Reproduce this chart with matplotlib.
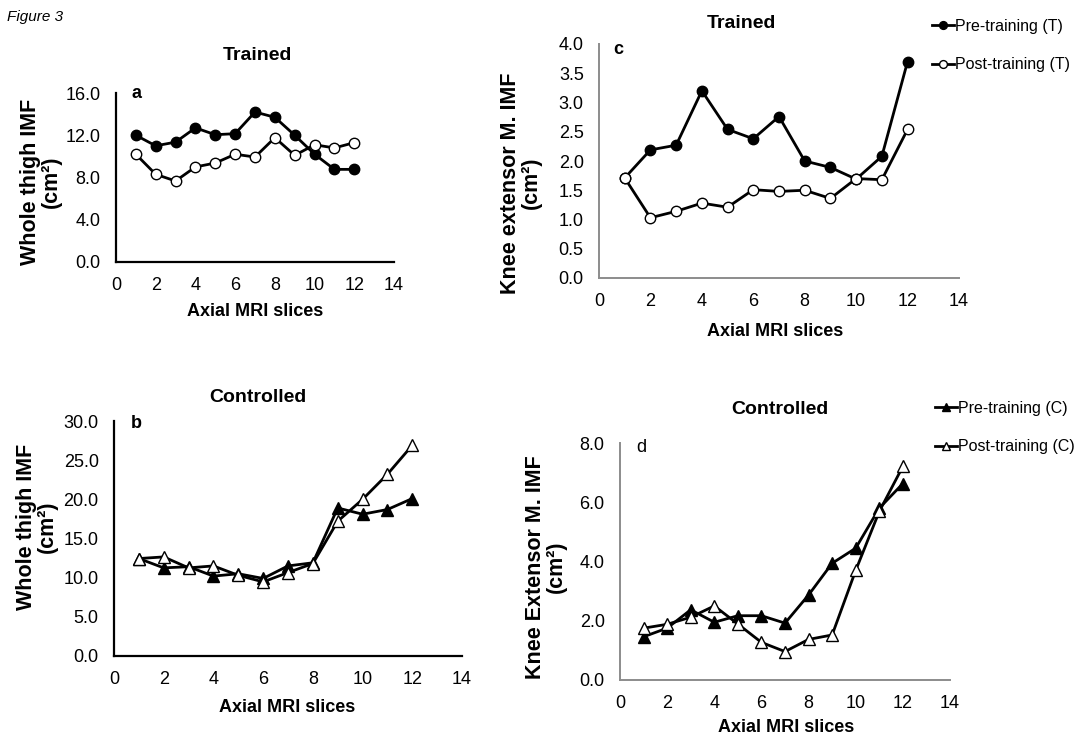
import numpy as np
import matplotlib
matplotlib.use("Agg")
import matplotlib.pyplot as plt

plt.rcParams['font.family'] = ['Liberation Sans', 'DejaVu Sans']

# Axial MRI slice numbers
slices = np.arange(1, 13)

# a: whole thigh IMF, trained group (cm²)
thigh_pre_t = [12.0, 11.0, 11.35, 12.7, 12.05, 12.15, 14.2, 13.7, 12.0, 10.2, 8.77, 8.77]
thigh_post_t = [10.2, 8.3, 7.67, 9.0, 9.37, 10.2, 9.94, 11.77, 10.1, 11.1, 10.8, 11.3]

# b: whole thigh IMF, controlled group (cm²)
thigh_pre_c = [12.44, 11.25, 11.4, 10.2, 10.5, 9.9, 11.5, 11.9, 18.9, 18.1, 18.7, 20.1]
thigh_post_c = [12.44, 12.65, 11.25, 11.5, 10.3, 9.46, 10.65, 11.8, 17.2, 20.0, 23.2, 26.9]

# c: knee extensor IMF, trained group (cm²)
knee_pre_t = [1.71, 2.19, 2.27, 3.2, 2.54, 2.38, 2.76, 2.0, 1.89, 1.69, 2.08, 3.70]
knee_post_t = [1.71, 1.03, 1.14, 1.28, 1.21, 1.51, 1.48, 1.50, 1.36, 1.70, 1.68, 2.54]

# d: knee extensor IMF, controlled group (cm²)
knee_pre_c = [1.46, 1.75, 2.37, 1.95, 2.17, 2.17, 1.92, 2.87, 3.94, 4.45, 5.8, 6.63]
knee_post_c = [1.75, 1.88, 2.12, 2.5, 1.89, 1.27, 0.96, 1.37, 1.52, 3.7, 5.69, 7.21]

W, H = 1079, 741
fig = plt.figure(figsize=(W / 100, H / 100), dpi=100)


def box(x0, y0, x1, y1):
    # pixel box (top-left origin) -> figure fraction rect
    return [x0 / W, 1 - y1 / H, (x1 - x0) / W, (y1 - y0) / H]


def fx(x, y):
    return x / W, 1 - y / H


def style_axes(ax, ymax, ystep, spine_color, spine_lw):
    ax.set_xlim(0, 14)
    ax.set_ylim(0, ymax)
    ax.set_xticks(range(0, 15, 2))
    ax.set_yticks(np.arange(0, ymax + ystep / 2, ystep))
    ax.yaxis.set_major_formatter(matplotlib.ticker.FormatStrFormatter('%.1f'))
    for s in ['top', 'right']:
        ax.spines[s].set_visible(False)
    for s in ['left', 'bottom']:
        ax.spines[s].set_color(spine_color)
        ax.spines[s].set_linewidth(spine_lw)
    ax.tick_params(length=0, labelsize=13, pad=11)
    ax.patch.set_alpha(0)


bold = dict(fontweight='bold')

# ---- panel a
ax_a = fig.add_axes(box(116, 93, 394, 262))
style_axes(ax_a, 16, 4, 'black', 1.6)
ax_a.plot(slices, thigh_pre_t, '-o', color='black', lw=2, ms=7.5, mfc='black')
ax_a.plot(slices, thigh_post_t, '-o', color='black', lw=2, ms=7.5, mfc='white', mew=1)

# ---- panel c
ax_c = fig.add_axes(box(599, 44, 959, 278))
style_axes(ax_c, 4, 0.5, '#8c8c8c', 1.4)
l1, = ax_c.plot(slices, knee_pre_t, '-o', color='black', lw=2, ms=7.5, mfc='black',
                label='Pre-training (T)')
l2, = ax_c.plot(slices, knee_post_t, '-o', color='black', lw=2, ms=7.5, mfc='white', mew=1,
                label='Post-training (T)')

# ---- panel b
ax_b = fig.add_axes(box(114, 421, 462, 656))
style_axes(ax_b, 30, 5, 'black', 1.6)
ax_b.plot(slices, thigh_pre_c, '-^', color='black', lw=2, ms=8.5, mfc='black')
ax_b.plot(slices, thigh_post_c, '-^', color='black', lw=2, ms=8.5, mfc='white', mew=1)

# ---- panel d
ax_d = fig.add_axes(box(620, 443, 950, 680))
style_axes(ax_d, 8, 2, '#8c8c8c', 1.4)
l3, = ax_d.plot(slices, knee_pre_c, '-^', color='black', lw=2, ms=8.5, mfc='black',
                label='Pre-training (C)')
l4, = ax_d.plot(slices, knee_post_c, '-^', color='black', lw=2, ms=8.5, mfc='white', mew=1,
                label='Post-training (C)')

# legends
leg_kw = dict(frameon=False, fontsize=11.5, handlelength=1.4, handletextpad=0.05,
              labelspacing=1.45, borderaxespad=0, borderpad=0, markerscale=0.75,
              loc='upper left')
fig.legend(handles=[l1, l2], bbox_to_anchor=fx(932, 19), **leg_kw)
fig.legend(handles=[l3, l4], bbox_to_anchor=fx(935, 401), **leg_kw)

# titles
fig.text(*fx(257, 55), 'Trained', ha='center', va='center', fontsize=14, **bold)
fig.text(*fx(741, 24), 'Trained', ha='center', va='center', fontsize=14, **bold)
fig.text(*fx(258, 398), 'Controlled', ha='center', va='center', fontsize=14, **bold)
fig.text(*fx(780, 410), 'Controlled', ha='center', va='center', fontsize=14, **bold)

# panel letters
fig.text(*fx(136, 94), 'a', ha='center', va='center', fontsize=13, **bold)
fig.text(*fx(618, 49), 'c', ha='center', va='center', fontsize=13, **bold)
fig.text(*fx(136, 424), 'b', ha='center', va='center', fontsize=13, **bold)
fig.text(*fx(641, 447), 'd', ha='center', va='center', fontsize=13)

# axis labels
for x, y in [(255, 312), (775, 332), (287, 708), (786, 728)]:
    fig.text(*fx(x, y), 'Axial MRI slices', ha='center', va='center', fontsize=13, **bold)

ylab = [((41, 182), 'Whole thigh IMF\n(cm²)'),
        ((521, 183), 'Knee extensor M. IMF\n(cm²)'),
        ((37, 527), 'Whole thigh IMF\n(cm²)'),
        ((546, 567), 'Knee Extensor M. IMF\n(cm²)')]
for (x, y), t in ylab:
    fig.text(*fx(x, y), t, ha='center', va='center', rotation=90, fontsize=15.5,
             multialignment='center', linespacing=0.95, **bold)

fig.text(*fx(7, 17), 'Figure 3', ha='left', va='center', fontsize=11, style='italic')

fig.savefig('out.png', dpi=100)
